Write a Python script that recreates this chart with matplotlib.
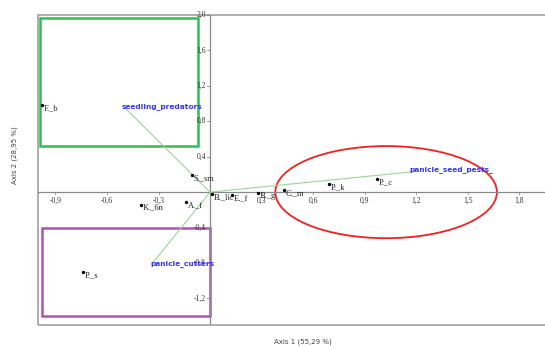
import matplotlib.pyplot as plt
from matplotlib.patches import Rectangle, Ellipse

# puntos (sitios) del biplot
etiquetas = ["F._b", "S._sm", "A._f", "K._6n", "B._lic", "E._f", "B._g", "C._m", "P._k", "P._c", "P._s"]
eje1 = [-0.98, -0.105, -0.14, -0.40, 0.01, 0.13, 0.28, 0.43, 0.69, 0.97, -0.74]
eje2 = [0.98, 0.19, -0.11, -0.14, -0.02, -0.03, -0.01, 0.02, 0.09, 0.15, -0.90]

# variables (vectores)
variables = ["seedling_predators", "panicle_seed_pests_", "panicle_cutters"]
var1 = [-0.495, 1.18, -0.33]
var2 = [0.95, 0.23, -0.79]

ticks_x = [-0.9, -0.6, -0.3, 0.3, 0.6, 0.9, 1.2, 1.5, 1.8]
ticks_y = [-1.2, -0.8, -0.4, 0.4, 0.8, 1.2, 1.6, 2.0]

fig = plt.figure(figsize=(5.45, 3.47), dpi=100)
ax = fig.add_axes([0.0703, 0.0634, 0.9297, 0.8934])
ax.set_xlim(-1.0, 1.95)
ax.set_ylim(-1.5, 2.0)

gris = "#a0a0a0"
for s in ax.spines.values():
    s.set_visible(False)
# marco
ax.add_patch(Rectangle((0, 0), 1.05, 1, transform=ax.transAxes, fill=False,
                       edgecolor=gris, lw=1.2, clip_on=False))
# ejes en el origen
ax.axhline(0, color="#888888", lw=0.9)
ax.axvline(0, color="#888888", lw=0.9)
ax.set_xticks([])
ax.set_yticks([])

fuente = ["Liberation Serif", "DejaVu Serif"]
for t in ticks_x:
    ax.plot([t, t], [0, -0.02], color="#888888", lw=0.6)
    ax.text(t, -0.05, f"{t:.1f}".replace(".", ","), ha="center", va="top",
            fontsize=5.5, family=fuente, color="#333333")
for t in ticks_y:
    ax.plot([0, -0.02], [t, t], color="#888888", lw=0.6)
    ax.text(-0.025, t, f"{t:.1f}".replace(".", ","), ha="right", va="center",
            fontsize=5.5, family=fuente, color="#333333")

# vectores de las variables
for nombre, vx, vy in zip(variables, var1, var2):
    ax.plot([0, vx], [0, vy], color="#99d699", lw=0.8)
    ax.text(vx - 0.02, vy + 0.02 if vy > 0 else vy - 0.02, nombre, ha="left",
            va="center", fontsize=5.3, color="#3333ff", fontweight="bold")

# puntos
ax.scatter(eje1, eje2, s=2, color="black", zorder=3)
for nombre, px, py in zip(etiquetas, eje1, eje2):
    ax.text(px + 0.01, py + 0.01, nombre, ha="left", va="top",
            fontsize=6, family=fuente, color="#222222")

# agrupamientos
ax.add_patch(Rectangle((-0.99, 0.52), 0.92, 1.45, fill=False,
                       edgecolor="#33bb55", lw=1.8))
ax.add_patch(Rectangle((-0.98, -1.40), 0.98, 0.99, fill=False,
                       edgecolor="#aa55aa", lw=1.8))
ax.add_patch(Ellipse((1.025, 0.0), 1.29, 1.04, fill=False,
                     edgecolor="#ee2222", lw=1.3))

fig.text(303 / 545, 1 - 342 / 347, "Axis 1 (55,29 %)", ha="center", va="center",
         fontsize=5, color="#444444")
fig.text(15 / 545, 1 - 155 / 347, "Axis 2 (28,95 %)", ha="center", va="center",
         rotation=90, fontsize=5, color="#444444")

fig.savefig("out.png", dpi=100)
